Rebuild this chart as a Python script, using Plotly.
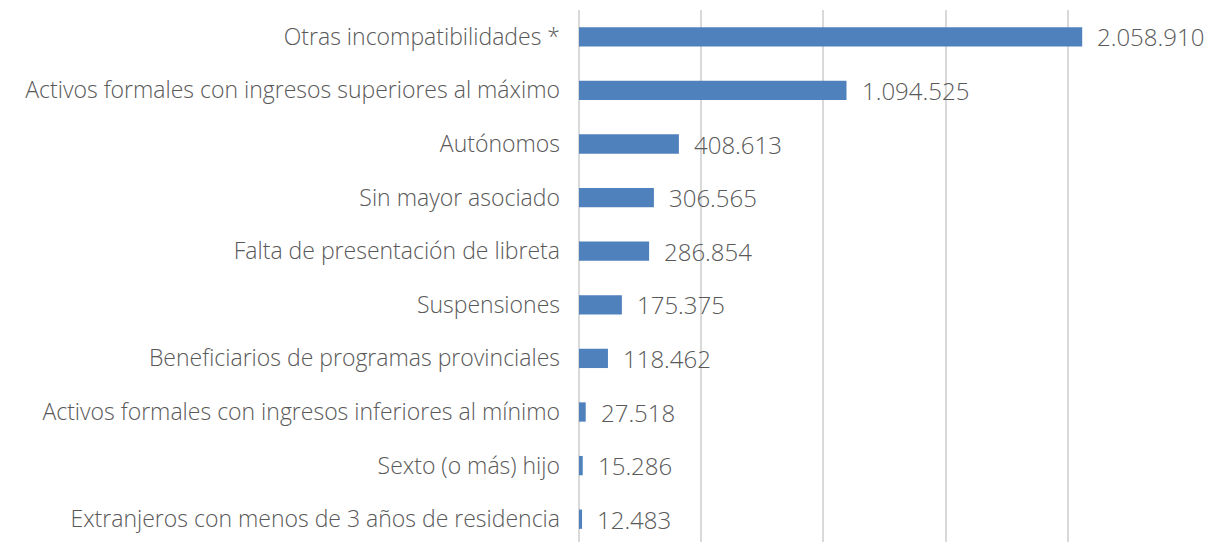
import plotly.graph_objects as go

categorias = [
    "Otras incompatibilidades *",
    "Activos formales con ingresos superiores al máximo",
    "Autónomos",
    "Sin mayor asociado",
    "Falta de presentación de libreta",
    "Suspensiones",
    "Beneficiarios de programas provinciales",
    "Activos formales con ingresos inferiores al mínimo",
    "Sexto (o más) hijo",
    "Extranjeros con menos de 3 años de residencia",
]
valores = [2058910, 1094525, 408613, 306565, 286854, 175375, 118462, 27518, 15286, 12483]

etiquetas = [f"{v:,}".replace(",", ".") for v in valores]

fuente = "Open Sans"
gris = "#595959"

fig = go.Figure(go.Bar(
    x=valores,
    y=categorias,
    orientation="h",
    marker=dict(color="#4F81BD", line=dict(width=0)),
    hoverinfo="x+y",
))

for cat, val, et in zip(categorias, valores, etiquetas):
    fig.add_annotation(
        x=val, y=cat, text=et, showarrow=False,
        xanchor="left", xshift=13,
        font=dict(family=fuente, size=24, color=gris, weight=300),
    )

# la pagina tiene 8px de margen en body, se compensa aqui
fig.update_layout(
    width=1212, height=538,
    margin=dict(l=571, r=30, t=2, b=0),
    plot_bgcolor="white", paper_bgcolor="white",
    bargap=0.64,
    showlegend=False,
    font=dict(family=fuente, size=23, color=gris),
)
fig.update_xaxes(
    range=[0, 2500000], dtick=500000, showticklabels=False,
    showgrid=True, gridcolor="#D9D9D9", gridwidth=2,
    zeroline=True, zerolinecolor="#D9D9D9", zerolinewidth=2,
)
fig.update_yaxes(
    autorange="reversed", ticklabelstandoff=18,
    tickfont=dict(family=fuente, size=23, color=gris, weight=300),
    showline=False,
)

fig.write_html("out.html")
